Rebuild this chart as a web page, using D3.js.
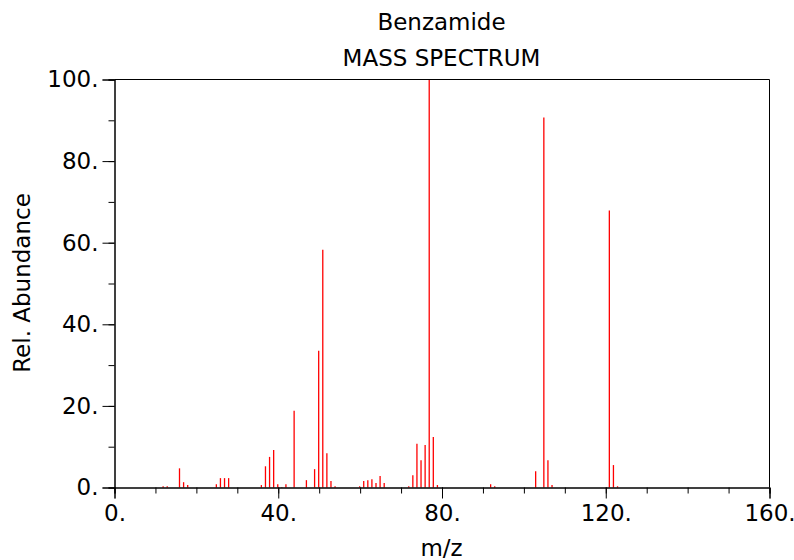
<!DOCTYPE html>
<html>
<head>
<meta charset="utf-8">
<script src="https://cdn.jsdelivr.net/npm/d3@7"></script>
<style>
    body { margin: 0; background: #fff; }
    svg { display: block; font-family: 'DejaVu Sans', sans-serif; }
</style>
</head>
<body>
<svg></svg>
<script>
// spectrum data (m/z and relative abundance)
const mz = [12, 13, 16, 17, 18, 25, 26, 27, 28, 36, 37, 38, 39, 40, 41, 42, 44, 47, 49, 50, 51, 52, 53, 54,
            60, 61, 62, 63, 64, 65, 66, 72, 73, 74, 75, 76, 77, 78, 79, 92, 93, 103, 105, 106, 107, 121, 122, 123];
const abundance = [0.3, 0.3, 4.7, 1.3, 0.6, 0.8, 2.3, 2.3, 2.3, 0.6, 5.2, 7.5, 9.2, 0.8, 0.1, 0.8, 18.8, 1.8, 4.5, 33.5, 58.3, 8.4, 1.6, 0.3,
                   0.3, 1.6, 1.8, 2.0, 1.1, 2.8, 1.1, 0.3, 3.0, 10.7, 6.7, 10.4, 100, 12.4, 0.6, 0.8, 0.3, 4.0, 90.7, 6.7, 0.6, 67.9, 5.5, 0.3];

const xMajor = [0, 40, 80, 120, 160];
const xMajorLabels = ['0.', '40.', '80.', '120.', '160.'];
const yMajor = [0, 20, 40, 60, 80, 100];
const yMajorLabels = ['0.', '20.', '40.', '60.', '80.', '100.'];

const width = 794, height = 560;
const margin = { left: 114, right: 25, top: 79, bottom: 73 };
const plotW = width - margin.left - margin.right;
const plotH = height - margin.top - margin.bottom;
const fontSize = '23px';

const svg = d3.select('svg')
    .attr('width', width)
    .attr('height', height);

// scales
const x = d3.scaleLinear().domain([0, 160]).range([0, plotW]);
const y = d3.scaleLinear().domain([0, 100]).range([plotH, 0]);

// peaks (drawn under the axes, left antialiased like the original)
const peaks = svg.append('g')
    .attr('transform', `translate(${margin.left},${margin.top + 0.5})`);

peaks.selectAll('.peak')
    .data(mz)
    .enter()
    .append('line')
    .attr('class', 'peak')
    .attr('x1', d => x(d))
    .attr('x2', d => x(d))
    .attr('y1', plotH)
    .attr('y2', (d, i) => y(abundance[i]))
    .attr('stroke', '#ff0000')
    .attr('stroke-width', 1.3);

const g = svg.append('g')
    .attr('transform', `translate(${margin.left + 0.5},${margin.top + 0.5})`);

// frame (top and right)
g.append('path')
    .attr('d', `M0,0H${plotW}V${plotH}`)
    .attr('fill', 'none')
    .attr('stroke', '#000')
    .attr('stroke-width', 1);

// minor ticks first, then major with labels
const xAxisMinor = d3.axisBottom(x)
    .tickValues(d3.range(0, 161, 10))
    .tickSize(6)
    .tickFormat('');
const xAxisMajor = d3.axisBottom(x)
    .tickValues(xMajor)
    .tickSize(11)
    .tickPadding(4)
    .tickFormat((d, i) => xMajorLabels[i]);

const yAxisMinor = d3.axisLeft(y)
    .tickValues(d3.range(0, 101, 10))
    .tickSize(6)
    .tickFormat('');
const yAxisMajor = d3.axisLeft(y)
    .tickValues(yMajor)
    .tickSize(12)
    .tickPadding(4)
    .tickFormat((d, i) => yMajorLabels[i]);

g.append('g').attr('transform', `translate(0,${plotH})`).call(xAxisMinor);
g.append('g').attr('class', 'x-axis').attr('transform', `translate(0,${plotH})`).call(xAxisMajor);
g.append('g').call(yAxisMinor);
g.append('g').attr('class', 'y-axis').call(yAxisMajor);

g.selectAll('.domain').attr('stroke', '#000');
g.selectAll('.tick line').attr('stroke', '#000');
g.selectAll('.tick text')
    .attr('fill', '#000')
    .style('font-size', fontSize)
    .style('font-family', "'DejaVu Sans', sans-serif");
g.selectAll('.x-axis .tick text').attr('dy', '0.8em');

// titles
svg.append('text')
    .attr('x', margin.left + plotW / 2)
    .attr('y', 30)
    .style('text-anchor', 'middle')
    .style('font-size', fontSize)
    .text('Benzamide');

svg.append('text')
    .attr('x', margin.left + plotW / 2)
    .attr('y', 66)
    .style('text-anchor', 'middle')
    .style('font-size', fontSize)
    .text('MASS SPECTRUM');

// axis labels
svg.append('text')
    .attr('x', margin.left + plotW / 2)
    .attr('y', 556)
    .style('text-anchor', 'middle')
    .style('font-size', fontSize)
    .text('m/z');

svg.append('text')
    .attr('transform', `translate(30,${margin.top + plotH / 2}) rotate(-90)`)
    .style('text-anchor', 'middle')
    .style('font-size', fontSize)
    .text('Rel. Abundance');
</script>
</body>
</html>
